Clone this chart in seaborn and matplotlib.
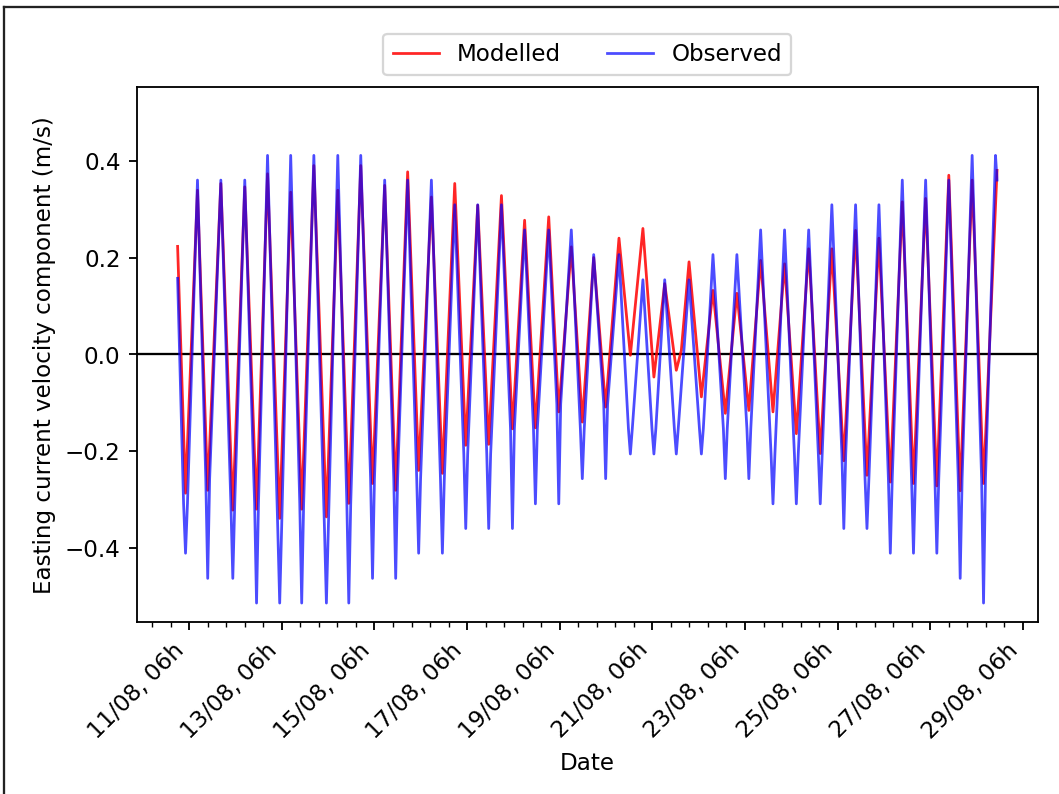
import numpy as np
import pandas as pd
import matplotlib
matplotlib.use('Agg')
import matplotlib.pyplot as plt
from matplotlib.ticker import AutoMinorLocator
from matplotlib.lines import Line2D
import seaborn as sns

# ---------------- data (hours after 11/08 00:00) ----------------
start = pd.Timestamp('2019-08-11 00:00')

obs_hours = [0.0,
             3.1, 4.1, 5.1, 10.3,
             14.6, 15.6, 16.6, 22.4,
             27.6, 28.6, 29.6, 34.8,
             39.9, 40.9, 41.9, 46.6,
             51.9, 52.9, 53.9, 58.6,
             63.3, 64.3, 65.3, 70.6,
             76.1, 77.1, 78.1, 83.0,
             87.7, 88.7, 89.7, 94.9,
             100.0, 101.0, 102.0, 107.3,
             112.0, 113.0, 114.0, 119.2,
             123.9, 124.9, 125.9, 131.5,
             136.2, 137.2, 138.2, 143.6,
             148.3, 149.3, 150.3, 155.5,
             160.2, 161.2, 162.2, 167.8,
             172.5, 173.5, 174.5, 179.8,
             184.4, 185.4, 186.4, 192.3,
             196.5, 197.5, 198.5, 204.0,
             208.7, 209.7, 210.7, 215.6,
             220.8, 221.8, 222.8, 228.7,
             233.6, 234.6, 235.6, 241.1,
             245.8, 246.8, 247.8, 252.4,
             257.4, 258.4, 259.4, 265.0,
             270.4, 271.4, 272.4, 277.4,
             282.8, 283.8, 284.8, 289.8,
             295.0, 296.0, 297.0, 302.1,
             307.5, 308.5, 309.5, 314.5,
             319.6, 320.6, 321.6, 327.0,
             332.0, 333.0, 334.0, 339.0,
             344.2, 345.2, 346.2, 351.3,
             356.2, 357.2, 358.2, 363.4,
             368.3, 369.3, 370.3, 375.5,
             380.3, 381.3, 382.3, 387.6,
             392.4, 393.4, 394.4, 399.6,
             404.5, 405.5, 406.5, 411.7,
             416.6, 417.6, 418.6, 423.8,
             424.6]

obs_vals = [0.157,
            -0.309, -0.411, -0.309, 0.360,
            -0.257, -0.463, -0.257, 0.360,
            -0.309, -0.463, -0.309, 0.360,
            -0.309, -0.514, -0.309, 0.411,
            -0.360, -0.514, -0.360, 0.411,
            -0.309, -0.514, -0.309, 0.411,
            -0.360, -0.514, -0.360, 0.411,
            -0.309, -0.514, -0.309, 0.411,
            -0.257, -0.463, -0.257, 0.360,
            -0.257, -0.463, -0.257, 0.360,
            -0.257, -0.411, -0.257, 0.360,
            -0.257, -0.411, -0.257, 0.309,
            -0.206, -0.360, -0.206, 0.309,
            -0.206, -0.360, -0.206, 0.309,
            -0.154, -0.360, -0.154, 0.257,
            -0.154, -0.309, -0.154, 0.257,
            -0.103, -0.309, -0.103, 0.257,
            -0.154, -0.257, -0.154, 0.206,
            -0.103, -0.257, -0.103, 0.206,
            -0.154, -0.206, -0.154, 0.154,
            -0.154, -0.206, -0.154, 0.154,
            -0.154, -0.206, -0.154, 0.154,
            -0.154, -0.206, -0.154, 0.206,
            -0.154, -0.257, -0.154, 0.206,
            -0.154, -0.257, -0.154, 0.257,
            -0.206, -0.309, -0.206, 0.257,
            -0.206, -0.309, -0.206, 0.257,
            -0.206, -0.309, -0.206, 0.309,
            -0.206, -0.360, -0.206, 0.309,
            -0.257, -0.360, -0.257, 0.309,
            -0.257, -0.411, -0.257, 0.360,
            -0.257, -0.411, -0.257, 0.360,
            -0.257, -0.411, -0.257, 0.360,
            -0.257, -0.463, -0.257, 0.411,
            -0.257, -0.514, -0.257, 0.411,
            0.360]

mod_hours = [0.0, 4.1, 10.3, 15.6, 22.4, 28.6, 34.8, 40.9, 46.6, 52.9,
             58.6, 64.3, 70.6, 77.1, 83.0, 88.7, 94.9, 101.0, 107.3, 113.0,
             119.2, 124.9, 131.5, 137.2, 143.6, 149.3, 155.5, 161.2, 167.8, 173.5,
             179.8, 185.4, 192.3, 197.5, 204.0, 209.7, 215.6, 221.8, 228.7, 234.6,
             241.1, 246.8, 252.4, 258.4, 261.0, 265.0, 271.4, 277.4, 283.8, 289.8,
             296.0, 302.1, 308.5, 314.5, 320.6, 327.0, 333.0, 339.0, 345.2, 351.3,
             357.2, 363.4, 369.3, 375.5, 381.3, 387.6, 393.4, 399.6, 405.5, 411.7,
             417.6, 424.6]

mod_vals = [0.223, -0.287, 0.339, -0.281, 0.353, -0.322, 0.346, -0.320, 0.373, -0.339,
            0.335, -0.320, 0.390, -0.336, 0.339, -0.308, 0.390, -0.267, 0.349, -0.281,
            0.377, -0.240, 0.325, -0.246, 0.353, -0.188, 0.308, -0.186, 0.328, -0.154,
            0.277, -0.152, 0.284, -0.119, 0.222, -0.140, 0.200, -0.109, 0.240, -0.002,
            0.260, -0.047, 0.146, -0.033, 0.008, 0.191, -0.088, 0.132, -0.122, 0.126,
            -0.116, 0.194, -0.119, 0.187, -0.164, 0.218, -0.205, 0.218, -0.220, 0.256,
            -0.250, 0.240, -0.264, 0.315, -0.267, 0.322, -0.272, 0.370, -0.282, 0.360,
            -0.267, 0.380]

tick_hours = [6, 54, 102, 150, 198, 246, 294, 342, 390, 438]
tick_labels = ['11/08, 06h', '13/08, 06h', '15/08, 06h', '17/08, 06h', '19/08, 06h',
               '21/08, 06h', '23/08, 06h', '25/08, 06h', '27/08, 06h', '29/08, 06h']

# ---------------- frames ----------------
obs = pd.DataFrame({'time': start + pd.to_timedelta(obs_hours, unit='h'), 'v': obs_vals})
mod = pd.DataFrame({'time': start + pd.to_timedelta(mod_hours, unit='h'), 'v': mod_vals})
tick_times = start + pd.to_timedelta(tick_hours, unit='h')

# ---------------- plot ----------------
fig = plt.figure(figsize=(6.4, 4.8), dpi=165.5)
ax = fig.add_axes([0.129, 0.2166, 0.851, 0.6738])

sns.lineplot(data=mod, x='time', y='v', color='red', lw=1.2, alpha=0.85,
             label='Modelled', ax=ax, estimator=None, sort=False)
sns.lineplot(data=obs, x='time', y='v', color='blue', lw=1.2, alpha=0.7,
             label='Observed', ax=ax, estimator=None, sort=False)
ax.axhline(0, color='black', lw=1.0, zorder=1)

ax.set_ylim(-0.553, 0.553)
ax.set_yticks([-0.4, -0.2, 0.0, 0.2, 0.4])
ax.set_xticks(tick_times)
ax.set_xticklabels(tick_labels, rotation=45, ha='right')
ax.xaxis.set_minor_locator(AutoMinorLocator(5))

ax.set_xlabel('Date')
ax.set_ylabel('Easting current velocity component (m/s)')
ax.legend(loc='center', bbox_to_anchor=(0.5, 1.06), ncol=2)

# outer frame (top and left edges visible in the reference)
fig.add_artist(Line2D([0.004, 1.0], [0.991, 0.991], transform=fig.transFigure,
                      color='#222222', lw=1.0))
fig.add_artist(Line2D([0.004, 0.004], [0.0, 0.991], transform=fig.transFigure,
                      color='#222222', lw=1.0))

fig.savefig('out.png', dpi=165.5)
